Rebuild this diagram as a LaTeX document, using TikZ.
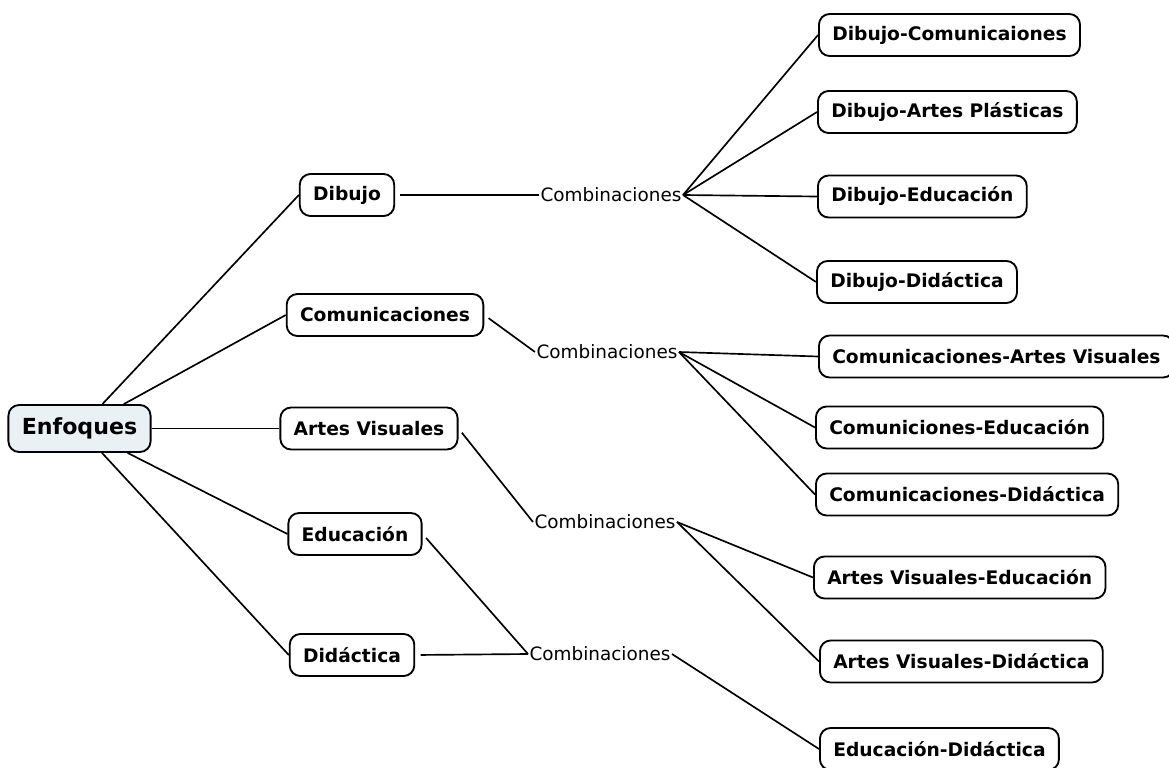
\documentclass[tikz,border=0pt]{standalone}
\usepackage{fontspec}
\setmainfont{DejaVu Sans}
\definecolor{rootfill}{HTML}{EAF1F5}
\tikzset{
  box/.style = {draw, line width=1.4pt, rounded corners=8pt, fill=white,
    font=\fontsize{14}{17}\bfseries, inner xsep=10pt, minimum height=42*0.75pt},
  root/.style = {box, fill=rootfill, font=\fontsize{16.6}{20}\bfseries, minimum height=47*0.75pt},
  comb/.style = {font=\fontsize{13.8}{16}\selectfont, inner sep=1pt},
  link/.style = {line width=1.25pt}
}
\begin{document}
\begin{tikzpicture}[x=0.75pt, y=-0.75pt]
		\useasboundingbox (0,0) rectangle (1169,767);
		% raiz y enfoques
		\node [root] (enf) at (79.5,428.5) {Enfoques};
		\node [box] (dib) at (347,195) {Dibujo};
		\node [box] (com) at (385,315) {Comunicaciones};
		\node [box] (art) at (369,428.5) {Artes Visuales};
		\node [box] (edu) at (355,534) {Educación};
		\node [box] (did) at (352,655) {Didáctica};
		% combinaciones
		\node [comb] (cb1) at (611,195) {Combinaciones};
		\node [comb] (cb2) at (607,352) {Combinaciones};
		\node [comb] (cb3) at (605,522) {Combinaciones};
		\node [comb] (cb4) at (600,654) {Combinaciones};
		% pares
		\node [box, anchor=west] (dc) at (818,35) {Dibujo-Comunicaiones};
		\node [box, anchor=west] (da) at (817,112) {Dibujo-Artes Plásticas};
		\node [box, anchor=west] (de) at (817,196.5) {Dibujo-Educación};
		\node [box, anchor=west] (dd) at (816,282) {Dibujo-Didáctica};
		\node [box, anchor=west] (cav) at (818,356.5) {Comunicaciones-Artes Visuales};
		\node [box, anchor=west] (ce) at (815,427.5) {Comuniciones-Educación};
		\node [box, anchor=west] (cd) at (815,494.5) {Comunicaciones-Didáctica};
		\node [box, anchor=west] (ave) at (813,577.5) {Artes Visuales-Educación};
		\node [box, anchor=west] (avd) at (819,661.5) {Artes Visuales-Didáctica};
		\node [box, anchor=west] (ed) at (819,749) {Educación-Didáctica};
		% conexiones
		\draw [link] (enf) -- (dib.west);
		\draw [link] (enf) -- (com.west);
		\draw [link] (enf) -- (art.west);
		\draw [link] (enf) -- (edu.west);
		\draw [link] (enf) -- (did.west);
		\draw [link, shorten <=4pt] (dib.east) -- (cb1.west);
		\draw [link, shorten <=4pt] (com.east) -- (cb2.west);
		\draw [link, shorten <=4pt] (art.east) -- (cb3.west);
		\draw [link, shorten <=4pt] (edu.east) -- (cb4.west);
		\draw [link, shorten <=4pt] (did.east) -- (cb4.west);
		\draw [link] (cb1.east) -- (dc.west);
		\draw [link] (cb1.east) -- (da.west);
		\draw [link] (cb1.east) -- (de.west);
		\draw [link] (cb1.east) -- (dd.west);
		\draw [link] (cb2.east) -- (cav.west);
		\draw [link] (cb2.east) -- (ce.west);
		\draw [link] (cb2.east) -- (cd.west);
		\draw [link] (cb3.east) -- (ave.west);
		\draw [link] (cb3.east) -- (avd.west);
		\draw [link] (cb4.east) -- (ed.west);
	\end{tikzpicture}
\end{document}
